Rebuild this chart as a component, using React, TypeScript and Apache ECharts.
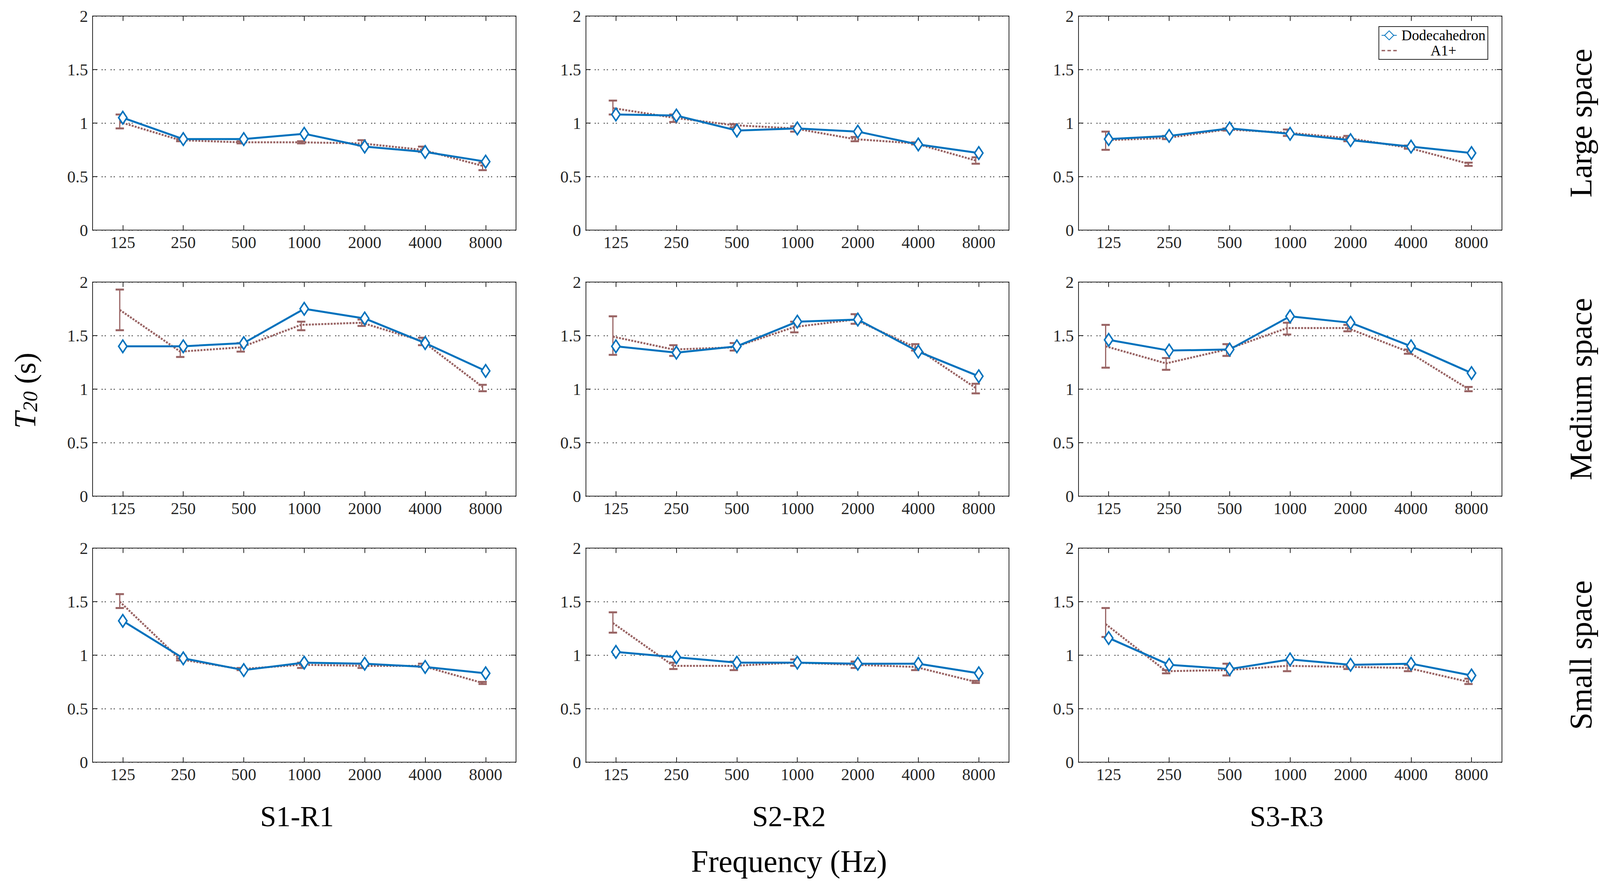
import React, { useEffect, useRef } from "react";
import * as echarts from "echarts";

// ---------- data ----------
const freqLabels = ["125", "250", "500", "1000", "2000", "4000", "8000"];
const yTicks = [0, 0.5, 1, 1.5, 2];
const columnTitles = ["S1-R1", "S2-R2", "S3-R3"];
const rowTitles = ["Large space", "Medium space", "Small space"];
const seriesNames = ["Dodecahedron", "A1+"];

// Large space
const dodecLargeS1 = [1.05, 0.85, 0.85, 0.9, 0.78, 0.73, 0.64];
const a1LargeS1 = [1.01, 0.84, 0.82, 0.82, 0.81, 0.75, 0.6];
const a1LargeS1Lo = [0.95, 0.83, 0.81, 0.81, 0.79, 0.73, 0.56];
const a1LargeS1Hi = [1.08, 0.85, 0.83, 0.83, 0.84, 0.78, 0.63];

const dodecLargeS2 = [1.08, 1.07, 0.93, 0.95, 0.92, 0.8, 0.72];
const a1LargeS2 = [1.14, 1.05, 0.98, 0.95, 0.85, 0.81, 0.65];
const a1LargeS2Lo = [1.08, 1.01, 0.96, 0.92, 0.83, 0.8, 0.62];
const a1LargeS2Hi = [1.21, 1.08, 0.99, 0.97, 0.87, 0.82, 0.68];

const dodecLargeS3 = [0.85, 0.88, 0.95, 0.9, 0.84, 0.78, 0.72];
const a1LargeS3 = [0.84, 0.86, 0.94, 0.91, 0.86, 0.77, 0.62];
const a1LargeS3Lo = [0.75, 0.85, 0.93, 0.88, 0.83, 0.76, 0.6];
const a1LargeS3Hi = [0.92, 0.88, 0.95, 0.94, 0.88, 0.79, 0.63];

// Medium space
const dodecMediumS1 = [1.4, 1.4, 1.43, 1.75, 1.66, 1.43, 1.17];
const a1MediumS1 = [1.74, 1.35, 1.39, 1.6, 1.62, 1.45, 1.02];
const a1MediumS1Lo = [1.55, 1.3, 1.35, 1.55, 1.59, 1.41, 0.98];
const a1MediumS1Hi = [1.93, 1.4, 1.43, 1.63, 1.65, 1.48, 1.04];

const dodecMediumS2 = [1.4, 1.34, 1.4, 1.63, 1.65, 1.35, 1.12];
const a1MediumS2 = [1.49, 1.37, 1.39, 1.58, 1.65, 1.39, 1.01];
const a1MediumS2Lo = [1.32, 1.31, 1.36, 1.53, 1.61, 1.36, 0.96];
const a1MediumS2Hi = [1.68, 1.41, 1.43, 1.63, 1.7, 1.42, 1.05];

const dodecMediumS3 = [1.46, 1.36, 1.37, 1.68, 1.62, 1.4, 1.15];
const a1MediumS3 = [1.4, 1.24, 1.37, 1.57, 1.57, 1.35, 1.0];
const a1MediumS3Lo = [1.2, 1.18, 1.31, 1.51, 1.54, 1.33, 0.98];
const a1MediumS3Hi = [1.6, 1.29, 1.42, 1.62, 1.6, 1.37, 1.02];

// Small space
const dodecSmallS1 = [1.32, 0.97, 0.86, 0.93, 0.92, 0.89, 0.83];
const a1SmallS1 = [1.5, 0.96, 0.87, 0.91, 0.9, 0.9, 0.74];
const a1SmallS1Lo = [1.44, 0.95, 0.86, 0.88, 0.88, 0.89, 0.73];
const a1SmallS1Hi = [1.57, 0.97, 0.88, 0.93, 0.92, 0.92, 0.75];

const dodecSmallS2 = [1.03, 0.98, 0.93, 0.93, 0.92, 0.92, 0.83];
const a1SmallS2 = [1.3, 0.9, 0.9, 0.93, 0.91, 0.89, 0.75];
const a1SmallS2Lo = [1.21, 0.87, 0.86, 0.9, 0.88, 0.86, 0.74];
const a1SmallS2Hi = [1.4, 0.93, 0.94, 0.96, 0.94, 0.92, 0.76];

const dodecSmallS3 = [1.16, 0.91, 0.87, 0.96, 0.91, 0.92, 0.81];
const a1SmallS3 = [1.29, 0.85, 0.86, 0.9, 0.89, 0.88, 0.75];
const a1SmallS3Lo = [1.17, 0.83, 0.81, 0.85, 0.87, 0.85, 0.73];
const a1SmallS3Hi = [1.44, 0.86, 0.92, 0.95, 0.91, 0.91, 0.78];

const panels = [
  { dodec: dodecLargeS1, a1: a1LargeS1, lo: a1LargeS1Lo, hi: a1LargeS1Hi },
  { dodec: dodecLargeS2, a1: a1LargeS2, lo: a1LargeS2Lo, hi: a1LargeS2Hi },
  { dodec: dodecLargeS3, a1: a1LargeS3, lo: a1LargeS3Lo, hi: a1LargeS3Hi },
  { dodec: dodecMediumS1, a1: a1MediumS1, lo: a1MediumS1Lo, hi: a1MediumS1Hi },
  { dodec: dodecMediumS2, a1: a1MediumS2, lo: a1MediumS2Lo, hi: a1MediumS2Hi },
  { dodec: dodecMediumS3, a1: a1MediumS3, lo: a1MediumS3Lo, hi: a1MediumS3Hi },
  { dodec: dodecSmallS1, a1: a1SmallS1, lo: a1SmallS1Lo, hi: a1SmallS1Hi },
  { dodec: dodecSmallS2, a1: a1SmallS2, lo: a1SmallS2Lo, hi: a1SmallS2Hi },
  { dodec: dodecSmallS3, a1: a1SmallS3, lo: a1SmallS3Lo, hi: a1SmallS3Hi },
];

// ---------- style ----------
const W = 4218;
const H = 2268;
const FONT = '"Liberation Serif", "Times New Roman", serif';
const BLUE = "#0072BD";
const BROWN = "#996464";
const AXIS = "#262626";
const GRID_LEFTS = [244, 1544, 2843];
const GRID_TOPS = [41, 722, 1403];
const GRID_W = 1116;
const GRID_H = 548;
const A1_OFFSET = -0.05; // A1+ markers sit slightly left of each band centre
const DOTTED_ICON = "path://M0 0H3V1.2H0Z M5 0H8V1.2H5Z M10 0H13V1.2H10Z";

function buildOption(sx: number, sy: number) {
  const s = Math.min(sx, sy);
  const grid: any[] = [];
  const xAxis: any[] = [];
  const yAxis: any[] = [];
  const series: any[] = [];

  panels.forEach((p, k) => {
    const row = Math.floor(k / 3);
    const col = k % 3;
    grid.push({
      left: GRID_LEFTS[col] * sx,
      top: GRID_TOPS[row] * sy,
      width: GRID_W * sx,
      height: GRID_H * sy,
      containLabel: false,
    });
    const catBase = {
      type: "category",
      gridIndex: k,
      data: freqLabels,
      boundaryGap: true,
      axisLine: { show: true, onZero: false, lineStyle: { color: AXIS, width: 2 } },
      axisTick: {
        show: true,
        inside: true,
        alignWithLabel: true,
        length: 13 * s,
        lineStyle: { color: AXIS, width: 2 },
      },
      splitLine: { show: false },
    };
    xAxis.push({
      ...catBase,
      position: "bottom",
      axisLabel: {
        show: true,
        fontFamily: FONT,
        fontSize: 44 * s,
        color: AXIS,
        margin: 10 * s,
      },
    });
    xAxis.push({ ...catBase, position: "top", axisLabel: { show: false } });
    xAxis.push({
      type: "value",
      gridIndex: k,
      min: -0.5,
      max: freqLabels.length - 0.5,
      show: false,
      axisLine: { onZero: false },
    });
    const valBase = {
      type: "value",
      gridIndex: k,
      min: yTicks[0],
      max: yTicks[yTicks.length - 1],
      interval: yTicks[1] - yTicks[0],
      axisLine: { show: true, onZero: false, lineStyle: { color: AXIS, width: 2 } },
      axisTick: {
        show: true,
        inside: true,
        length: 13 * s,
        lineStyle: { color: AXIS, width: 2 },
      },
    };
    yAxis.push({
      ...valBase,
      position: "left",
      axisLabel: {
        show: true,
        fontFamily: FONT,
        fontSize: 44 * s,
        color: AXIS,
        margin: 12 * s,
      },
      splitLine: {
        show: true,
        lineStyle: { color: "#505050", width: 2.5, type: [3, 5, 3, 12] },
      },
    });
    yAxis.push({
      ...valBase,
      position: "right",
      axisLabel: { show: false },
      splitLine: { show: false },
    });

    series.push({
      name: seriesNames[1],
      type: "line",
      xAxisIndex: k * 3 + 2,
      yAxisIndex: k * 2,
      data: p.a1.map((v, i) => [i + A1_OFFSET, v]),
      symbol: "none",
      lineStyle: { color: BROWN, width: 5, type: [5, 3] },
      itemStyle: { color: BROWN },
      z: 3,
    });
    series.push({
      name: "A1+ spread",
      type: "custom",
      xAxisIndex: k * 3 + 2,
      yAxisIndex: k * 2,
      data: p.lo.map((v, i) => [i + A1_OFFSET, v, p.hi[i]]),
      encode: { x: 0, y: [1, 2] },
      z: 4,
      renderItem: (params: any, api: any) => {
        const x = api.value(0);
        const a = api.coord([x, api.value(1)]);
        const b = api.coord([x, api.value(2)]);
        const cw = 11 * s;
        const st = { stroke: BROWN, lineWidth: 3 };
        const cap = { stroke: BROWN, lineWidth: 5 };
        return {
          type: "group",
          children: [
            { type: "line", shape: { x1: a[0], y1: a[1], x2: b[0], y2: b[1] }, style: st },
            { type: "line", shape: { x1: a[0] - cw, y1: a[1], x2: a[0] + cw, y2: a[1] }, style: cap },
            { type: "line", shape: { x1: b[0] - cw, y1: b[1], x2: b[0] + cw, y2: b[1] }, style: cap },
          ],
        };
      },
    });
    series.push({
      name: seriesNames[0],
      type: "line",
      xAxisIndex: k * 3,
      yAxisIndex: k * 2,
      data: p.dodec,
      symbol: "diamond",
      symbolSize: [22 * s, 33 * s],
      showSymbol: true,
      lineStyle: { color: BLUE, width: 5 },
      itemStyle: { color: "#ffffff", borderColor: BLUE, borderWidth: 4 },
      z: 5,
    });
  });

  const graphic: any[] = [];
  const colCenters = [783, 2080, 3392];
  columnTitles.forEach((t, i) => {
    graphic.push({
      type: "text",
      x: colCenters[i] * sx,
      y: 2090 * sy,
      style: {
        text: t,
        fontFamily: FONT,
        fontSize: 76 * s,
        fill: "#000",
        align: "center",
        verticalAlign: "middle",
      },
    });
  });
  graphic.push({
    type: "text",
    x: 2080 * sx,
    y: 2205 * sy,
    style: {
      text: "Frequency (Hz)",
      fontFamily: FONT,
      fontSize: 82 * s,
      fill: "#000",
      align: "center",
      verticalAlign: "middle",
    },
  });
  rowTitles.forEach((t, i) => {
    graphic.push({
      type: "text",
      x: 4168 * sx,
      y: (GRID_TOPS[i] + GRID_H / 2) * sy,
      rotation: Math.PI / 2,
      style: {
        text: t,
        fontFamily: FONT,
        fontSize: 82 * s,
        lineHeight: 82 * s,
        fill: "#000",
        align: "center",
        verticalAlign: "middle",
      },
    });
  });
  graphic.push({
    type: "text",
    x: 66 * sx,
    y: 1000 * sy,
    rotation: Math.PI / 2,
    style: {
      text: "{t|T}{s|20}{n| (s)}",
      fontFamily: FONT,
      fill: "#000",
      align: "center",
      verticalAlign: "middle",
      rich: {
        t: { fontFamily: FONT, fontSize: 80 * s, fontStyle: "italic", lineHeight: 80 * s, verticalAlign: "bottom" },
        s: { fontFamily: FONT, fontSize: 54 * s, fontStyle: "italic", lineHeight: 68 * s, verticalAlign: "bottom" },
        n: { fontFamily: FONT, fontSize: 78 * s, lineHeight: 80 * s, verticalAlign: "bottom" },
      },
    },
  });

  return {
    animation: false,
    backgroundColor: "#ffffff",
    grid,
    xAxis,
    yAxis,
    series,
    graphic,
    legend: {
      show: true,
      data: [{ name: seriesNames[0] }, { name: seriesNames[1], icon: DOTTED_ICON }],
      orient: "vertical",
      left: 3635 * sx,
      top: 68 * sy,
      itemWidth: 40 * s,
      itemHeight: 30 * s,
      itemGap: 2,
      padding: [4, 6, 4, 6],
      borderColor: AXIS,
      borderWidth: 2,
      backgroundColor: "#ffffff",
      formatter: "{c|{name}}",
      textStyle: {
        fontFamily: FONT,
        fontSize: 38 * s,
        color: "#000",
        rich: {
          c: { fontFamily: FONT, fontSize: 38 * s, color: "#000", width: 236 * s, align: "center" },
        },
      },
    },
  };
}

export default function App() {
  const ref = useRef<HTMLDivElement | null>(null);
  const vw = (typeof window !== "undefined" && window.innerWidth) || W;
  const vh = (typeof window !== "undefined" && window.innerHeight) || H;
  useEffect(() => {
    if (!ref.current) return;
    const chart = echarts.init(ref.current, null, { renderer: "svg" });
    chart.setOption(buildOption(vw / W, vh / H) as any);
    return () => chart.dispose();
  }, []);
  return (
    <div
      ref={ref}
      style={{ position: "fixed", left: 0, top: 0, width: vw, height: vh, background: "#fff" }}
    />
  );
}
